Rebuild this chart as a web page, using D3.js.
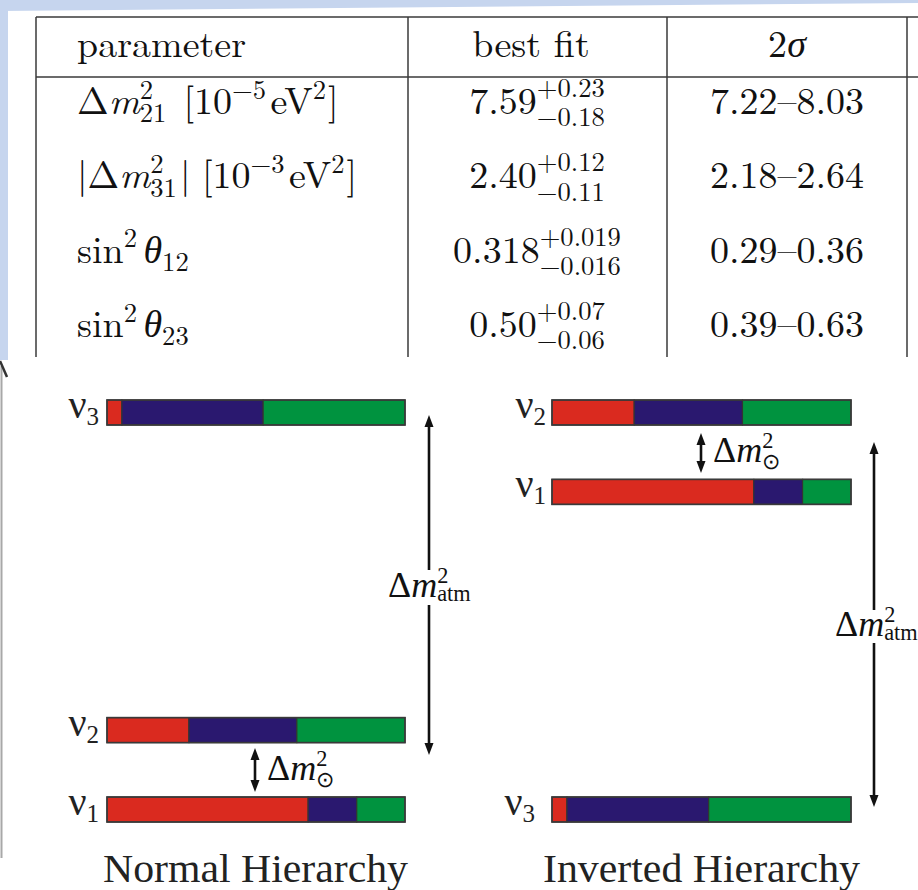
<!DOCTYPE html>
<html><head><meta charset="utf-8">
<script src="https://cdn.jsdelivr.net/npm/d3@7"></script>
<style>
body{margin:0;background:#fff}
svg{display:block}
</style>
</head><body>
<svg id="c" width="918" height="890"></svg>
<script>
// ---------------- DATA ----------------
const headers = ["parameter", "best fit", "2σ"];
const paramLabels = [
  [{t:"Δ"},{t:"m",i:1},{t:"2",sup:1},{t:"21",sub:1,st:1},{gap:0.45},{t:"[10"},{t:"−5",sup:1},{gap:0.12},{t:"eV"},{t:"2",sup:1},{gap:0.05},{t:"]"}],
  [{t:"|Δ"},{t:"m",i:1},{t:"2",sup:1},{t:"31",sub:1,st:1},{gap:0.08},{t:"|"},{gap:0.3},{t:"[10"},{t:"−3",sup:1},{gap:0.12},{t:"eV"},{t:"2",sup:1},{gap:0.05},{t:"]"}],
  [{t:"sin"},{t:"2",sup:1},{gap:0.17},{t:"θ",i:1},{t:"12",sub:1}],
  [{t:"sin"},{t:"2",sup:1},{gap:0.17},{t:"θ",i:1},{t:"23",sub:1}]
];
const bestFit      = ["7.59", "2.40", "0.318", "0.50"];
const bestFitPlus  = ["0.23", "0.12", "0.019", "0.07"];
const bestFitMinus = ["0.18", "0.11", "0.016", "0.06"];
const range2sigma  = ["7.22–8.03", "2.18–2.64", "0.29–0.36", "0.39–0.63"];

const massStates = ["1", "2", "3"];            // ν1, ν2, ν3
const flavors = ["e", "mu", "tau"];
const flavorColors = ["#da2a1f", "#2a186f", "#00933f"];
const fracE   = [0.675, 0.275, 0.050];
const fracMu  = [0.163, 0.362, 0.474];
const fracTau = [0.162, 0.363, 0.476];
const levelsNormal   = [0, 1, 5];   // schematic mass² levels
const levelsInverted = [4, 5, 0];
const hierarchyTitles = ["Normal Hierarchy", "Inverted Hierarchy"];

// ---------------- SETUP ----------------
const FONT_T = '"Latin Modern Roman"';
const FONT_D = '"Liberation Serif"';
const svg = d3.select("#c");
const W = 918, H = 890;

svg.append("polygon").attr("points", "0,0 918,0 918,3 0,11").attr("fill", "#c6d5ee");
svg.append("rect").attr("x", 0).attr("y", 0).attr("width", 8).attr("height", 360).attr("fill", "#c6d5ee");

function mathRow(parent, x, y, parts, fs, opts) {
  opts = opts || {};
  const sr = opts.sr || 0.7, supSh = opts.sup || 0.42, subSh = opts.sub || 0.3, sx = opts.sx || 1;
  const font = opts.font || FONT_T;
  const g = parent.append("g");
  let cx = 0, lastX = 0;
  parts.forEach(p => {
    if (p.gap) { cx += p.gap * fs; return; }
    const small = p.sup || p.sub;
    const size = small ? fs * sr : fs;
    const px = p.st ? lastX : cx;
    const dy = p.sup ? -supSh * fs : (p.sub ? subSh * fs : 0);
    const t = g.append("text").attr("x", px).attr("y", dy)
      .style("font-family", font).style("font-size", size + "px")
      .style("font-style", p.i ? "italic" : "normal").attr("fill", "#111").text(p.t);
    const w = t.node().getComputedTextLength();
    if (p.st) cx = Math.max(cx, px + w);
    else { lastX = px; cx = px + w; }
  });
  const total = cx * sx;
  const ox = opts.anchor === "middle" ? x - total / 2 : (opts.anchor === "end" ? x - total : x);
  g.attr("transform", `translate(${ox},${y}) scale(${sx},1)`);
  return g;
}

// ---------------- TABLE ----------------
const table = svg.append("g");
const colLines = [36, 408, 667, 907];
const tTop = 17, tHead = 77, tBottom = 357;
const lineCol = "#3a3a3a";
table.append("line").attr("x1", 36).attr("x2", W).attr("y1", tTop).attr("y2", tTop).attr("stroke", lineCol).attr("stroke-width", 1.5);
table.append("line").attr("x1", 36).attr("x2", W).attr("y1", tHead).attr("y2", tHead).attr("stroke", lineCol).attr("stroke-width", 1.5);
colLines.forEach(x => table.append("line").attr("x1", x).attr("x2", x).attr("y1", tTop).attr("y2", tBottom).attr("stroke", lineCol).attr("stroke-width", 1.5));

const FS = 38;
const colCenter = [null, (408 + 667) / 2, (667 + 907) / 2];
mathRow(table, 77, 57, [{t: headers[0]}], FS);
mathRow(table, 531, 57, [{t: headers[1]}], FS, {anchor: "middle"});
mathRow(table, colCenter[2], 57, [{t: "2"}, {t: "σ", i: 1}], FS, {anchor: "middle"});

const rowY = d3.scalePoint().domain(d3.range(paramLabels.length)).range([114, 337]);
paramLabels.forEach((parts, i) => {
  mathRow(table, 77, rowY(i), parts, FS, {sup: 0.4, sub: 0.22});
});
bestFit.forEach((v, i) => {
  mathRow(table, 537, rowY(i), [{t: v}, {t: "+" + bestFitPlus[i], sup: 1}, {t: "−" + bestFitMinus[i], sub: 1, st: 1}], FS,
    {anchor: "middle", sup: 0.45, sub: 0.32});
});
range2sigma.forEach((v, i) => {
  mathRow(table, colCenter[2], rowY(i), [{t: v}], FS, {anchor: "middle"});
});

// ---------------- DIAGRAM ----------------
const diag = svg.append("g");
diag.append("line").attr("x1", 1.5).attr("x2", 1.5).attr("y1", 366).attr("y2", 858).attr("stroke", "#a8a8a8").attr("stroke-width", 2);
diag.append("line").attr("x1", 0).attr("x2", 7).attr("y1", 361).attr("y2", 377).attr("stroke", "#333").attr("stroke-width", 2.5);

const rows = massStates.map((s, i) => ({state: s, e: fracE[i], mu: fracMu[i], tau: fracTau[i]}));
const series = d3.stack().keys(flavors)(rows);
const y = d3.scaleLinear().domain([0, 5]).range([797, 400]);
const barH = 25;

function drawHierarchy(xRange, levels, labelEnd, labelShift) {
  const x = d3.scaleLinear().domain([0, 1]).range(xRange);
  const g = diag.append("g");
  series.forEach((s, k) => {
    g.selectAll(null).data(s).enter().append("rect")
      .attr("x", d => x(d[0])).attr("width", d => x(d[1]) - x(d[0]))
      .attr("y", (d, i) => y(levels[i])).attr("height", barH)
      .attr("fill", flavorColors[k]).attr("stroke", "#333").attr("stroke-width", 1.2);
  });
  rows.forEach((r, i) => {
    g.append("rect").attr("x", x(0)).attr("width", x(1) - x(0)).attr("y", y(levels[i])).attr("height", barH)
      .attr("fill", "none").attr("stroke", "#3a3a3a").attr("stroke-width", 1.6);
    const t = g.append("text").attr("x", labelEnd + (labelShift[i] || 0)).attr("y", y(levels[i]) + 18)
      .attr("text-anchor", "end").style("font-family", FONT_D).attr("fill", "#222");
    t.append("tspan").style("font-size", "40px").text("ν");
    t.append("tspan").style("font-size", "25px").attr("dy", 7).text(r.state);
  });
}
drawHierarchy([107, 405], levelsNormal, 99, {});
drawHierarchy([552, 851], levelsInverted, 546, {2: -11});

function head(x, tipY, dir) {
  diag.append("path").attr("d", `M${x},${tipY} L${x - 4.5},${tipY - dir * 12} L${x + 4.5},${tipY - dir * 12} Z`).attr("fill", "#111");
}
function seg(x, y1, y2) {
  diag.append("line").attr("x1", x).attr("x2", x).attr("y1", y1).attr("y2", y2).attr("stroke", "#111").attr("stroke-width", 2.6);
}
seg(429, 425, 570); head(429, 415, -1);
seg(429, 605, 745); head(429, 755, 1);
seg(874, 452, 610); head(874, 442, -1);
seg(874, 643, 797); head(874, 807, 1);
seg(255, 758, 782); head(255, 748, -1); head(255, 792, 1);
seg(701, 443, 463); head(701, 433, -1); head(701, 473, 1);

const LFS = 36;
const atmParts = [{t: "Δ"}, {t: "m", i: 1}, {t: "2", sup: 1}, {t: "atm", sub: 1, st: 1}];
const solParts = [{t: "Δ"}, {t: "m", i: 1}, {t: "2", sup: 1}, {t: "⊙", sub: 1, st: 1}];
const dOpts = (sub) => ({font: FONT_D, sr: 0.62, sup: 0.38, sub: sub});
mathRow(diag, 388, 597, atmParts, LFS, dOpts(0.1));
mathRow(diag, 835, 636, atmParts, LFS, dOpts(0.1));
mathRow(diag, 267, 780, solParts, LFS, dOpts(0.2));
mathRow(diag, 713, 462, solParts, LFS, dOpts(0.2));

diag.append("text").attr("x", 103).attr("y", 882).style("font-family", FONT_D).style("font-size", "41px").attr("fill", "#222")
  .attr("textLength", 305).attr("lengthAdjust", "spacingAndGlyphs").text(hierarchyTitles[0]);
diag.append("text").attr("x", 543).attr("y", 882).style("font-family", FONT_D).style("font-size", "41px").attr("fill", "#222")
  .attr("textLength", 317).attr("lengthAdjust", "spacingAndGlyphs").text(hierarchyTitles[1]);
</script>
</body></html>
